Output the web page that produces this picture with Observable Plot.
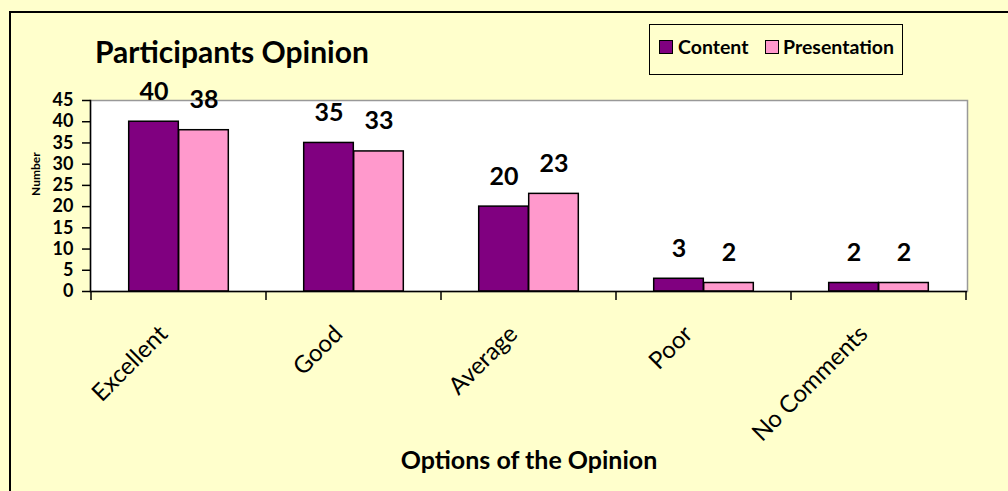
<!DOCTYPE html>
<html>
<head>
<meta charset="utf-8">
<script src="https://cdn.jsdelivr.net/npm/d3@7"></script>
<script src="https://cdn.jsdelivr.net/npm/@observablehq/plot@0.6"></script>
<style>
  html, body { margin: 0; padding: 0; background: #FFFFCC; }
  #wrap { position: relative; width: 1008px; height: 491px; overflow: hidden; background: #FFFFCC; font-family: Lato, "DejaVu Sans", sans-serif; }
  #border { position: absolute; left: 9px; top: 11px; width: 1100px; height: 600px; border: 2.5px solid #000; box-sizing: border-box; pointer-events: none; }
  #title { position: absolute; left: 95px; top: 36px; font-size: 30px; font-weight: bold; color: #000; white-space: nowrap; line-height: 1; }
  #legend { position: absolute; left: 649px; top: 24px; width: 254px; height: 51px; border: 1.5px solid #000; box-sizing: border-box; }
  .sw { position: absolute; top: 15px; width: 12px; height: 12px; border: 1.5px solid #000; }
  .lt { position: absolute; top: 11px; font-size: 19.5px; font-weight: bold; line-height: 1.1; white-space: nowrap; }
  #chart { position: absolute; left: 0; top: 0; }
</style>
</head>
<body>
<div id="wrap">
  <div id="chart"></div>
  <div id="title"></div>
  <div id="legend"></div>
  <div id="border"></div>
</div>
<script>
const categories = ["Excellent", "Good", "Average", "Poor", "No Comments"];
const seriesNames = ["Content", "Presentation"];
const contentValues = [40, 35, 20, 3, 2];
const presentationValues = [38, 33, 23, 2, 2];
const yTicks = [0, 5, 10, 15, 20, 25, 30, 35, 40, 45];
const titleText = "Participants Opinion";
const xTitle = "Options of the Opinion";
const yTitle = "Number";
const colors = ["#800080", "#FF99CC"];

const content = categories.map((c, i) => ({category: c, value: contentValues[i]}));
const presentation = categories.map((c, i) => ({category: c, value: presentationValues[i]}));

const W = 1008, H = 491;
const mL = 90, mR = 41, mT = 100, mB = 200;
const bw = (W - mL - mR) / categories.length;
const barW = 50;
const outer = (bw - 2 * barW) / 2;

const svg = Plot.plot({
  width: W,
  height: H,
  marginLeft: mL,
  marginRight: mR,
  marginTop: mT,
  marginBottom: mB,
  style: {background: "transparent", fontFamily: "Lato, 'DejaVu Sans', sans-serif", overflow: "visible"},
  x: {domain: categories, padding: 0, axis: null},
  y: {domain: [0, 45], axis: null},
  marks: [
    Plot.frame({fill: "white", stroke: "#999999", strokeWidth: 1.5}),
    Plot.axisY({ticks: yTicks, tickSize: 8, tickPadding: 9, fontSize: 18, fontWeight: "bold", stroke: "black", strokeWidth: 1.5, label: null, fill: "black"}),
    Plot.barY(content, {x: "category", y: "value", fill: colors[0], stroke: "black", strokeWidth: 1.5, insetLeft: outer, insetRight: outer + barW}),
    Plot.barY(presentation, {x: "category", y: "value", fill: colors[1], stroke: "black", strokeWidth: 1.5, insetLeft: outer + barW, insetRight: outer}),
    Plot.ruleY([0], {stroke: "black", strokeWidth: 1.5}),
    Plot.frame({anchor: "left", stroke: "black", strokeWidth: 1.5}),
    Plot.text(content, {x: "category", y: "value", text: d => String(d.value), dx: -barW / 2, dy: -22, lineAnchor: "bottom", fontSize: 25, fontWeight: "bold", fill: "black"}),
    Plot.text(presentation, {x: "category", y: "value", text: d => String(d.value), dx: barW / 2, dy: -22, lineAnchor: "bottom", fontSize: 25, fontWeight: "bold", fill: "black"}),
    Plot.text(categories, {x: d => d, frameAnchor: "bottom", text: d => d, rotate: -45, textAnchor: "end", lineAnchor: "bottom", dx: -10, dy: 44, fontSize: 24, fill: "black"}),
    Plot.text([xTitle], {frameAnchor: "bottom", text: d => d, dy: 177, lineAnchor: "bottom", fontSize: 25, fontWeight: "bold", fill: "black"}),
    Plot.text([yTitle], {frameAnchor: "left", text: d => d, rotate: -90, dx: -54, fontSize: 12, fontWeight: "bold", fill: "black"})
  ]
});

// category boundary ticks drawn through the plot's own scales
const xs = svg.scale("x");
const ys = svg.scale("y");
const y0 = ys.apply(0);
const edges = categories.map(c => xs.apply(c)).concat([xs.apply(categories[categories.length - 1]) + xs.bandwidth]);
d3.select(svg).append("g")
  .selectAll("line").data(edges).join("line")
  .attr("x1", d => d).attr("x2", d => d)
  .attr("y1", y0).attr("y2", y0 + 9)
  .attr("stroke", "black").attr("stroke-width", 1.5);

document.getElementById("chart").appendChild(svg);
document.getElementById("title").textContent = titleText;

const legend = document.getElementById("legend");
const legendPos = [{sw: 9, tx: 28}, {sw: 115, tx: 133}];
seriesNames.forEach((name, i) => {
  const s = document.createElement("div");
  s.className = "sw";
  s.style.left = legendPos[i].sw + "px";
  s.style.background = colors[i];
  legend.appendChild(s);
  const t = document.createElement("div");
  t.className = "lt";
  t.style.left = legendPos[i].tx + "px";
  t.textContent = name;
  legend.appendChild(t);
});
</script>
</body>
</html>
